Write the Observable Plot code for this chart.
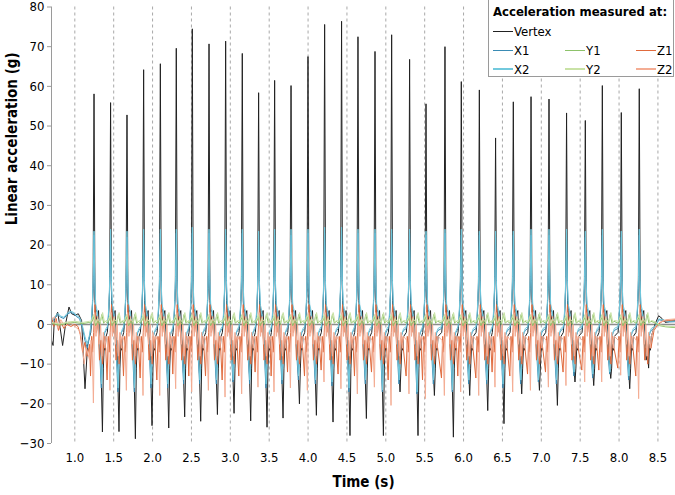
<!DOCTYPE html>
<html>
<head>
<meta charset="utf-8">
<script src="https://cdn.jsdelivr.net/npm/d3@7"></script>
<script src="https://cdn.jsdelivr.net/npm/@observablehq/plot@0.6"></script>
<style>
  html, body { margin: 0; padding: 0; background: #fff; }
  #wrap { position: relative; width: 675px; height: 495px; overflow: hidden; }
  #legend { position: absolute; left: 488px; top: -1px; width: 186px; height: 78px;
    border: 1px solid #9a9a9a; background: #fff; box-sizing: border-box;
    font-family: "DejaVu Sans Condensed", "DejaVu Sans", sans-serif; font-size: 13px; color: #000; }
  #legend .title { position: absolute; left: 4px; top: 4px; font-weight: bold; line-height: 15px; white-space: nowrap; }
  #legend .item { position: absolute; height: 16px; display: flex; align-items: center; white-space: nowrap; }
  #legend .sw { display: inline-block; width: 20px; height: 0; margin-right: 1px; }
</style>
</head>
<body>
<div id="wrap"></div>
<script>
// ---------------- data ----------------
const seriesNames = ["Vertex", "X1", "Y1", "Z1", "X2", "Y2", "Z2"];
const seriesColors = ["#222222", "#3a8bb4", "#8dc26a", "#e06a3c", "#72c9dd", "#c9e2a6", "#f4ad94"];
const drawOrder = ["Vertex", "X1", "X2", "Z1", "Z2", "Y1", "Y2"];

const xTicks = [1.0, 1.5, 2.0, 2.5, 3.0, 3.5, 4.0, 4.5, 5.0, 5.5, 6.0, 6.5, 7.0, 7.5, 8.0, 8.5];
const yTicks = [-30, -20, -10, 0, 10, 20, 30, 40, 50, 60, 70, 80];
const xDomain = [0.70, 8.726];
const yDomain = [-30, 80];

// time of each impact spike (s)
const spikeTimes = [1.247, 1.460, 1.671, 1.885, 2.100, 2.305, 2.511, 2.726, 2.940, 3.154, 3.364,
  3.570, 3.781, 3.999, 4.213, 4.431, 4.642, 4.861, 5.075, 5.306, 5.517, 5.761, 5.971, 6.203,
  6.412, 6.640, 6.868, 7.099, 7.325, 7.566, 7.785, 8.029, 8.260];

const vertexPeaks = [58.1, 55.9, 52.8, 64.2, 65.7, 69.6, 74.5, 70.7, 71.4, 68.3, 58.4, 61.5, 60.2,
  67.5, 75.6, 76.4, 72.5, 68.8, 73.0, 66.8, 55.6, 70.0, 61.2, 59.1, 47.0, 56.1, 57.4, 56.8,
  53.3, 51.4, 60.2, 53.4, 59.4];
const vertexTroughs = [-27.1, -27.0, -28.8, -25.5, -26.1, -23.3, -24.4, -22.7, -22.4, -24.3, -25.9,
  -23.6, -20.0, -22.9, -24.6, -28.0, -23.7, -28.0, -17.0, -28.0, -17.9, -28.4, -17.9, -21.7,
  -25.0, -17.5, -16.6, -20.4, -14.5, -15.4, -13.6, -16.2, -7.0];

const x1Peaks = [22.5, 22.5, 22, 22.5, 23, 23, 23, 23, 22.5, 23, 22.5, 22.5, 22.5, 23, 23, 23.5,
  23, 23, 23, 23, 22.5, 23, 22.5, 22.5, 22, 22.5, 22.5, 22.5, 22.5, 22, 22.5, 22, 22.5];
const x1Troughs = [-16, -17, -17, -16, -16, -15, -15, -15, -14.5, -15, -16, -15, -14, -15, -15.5,
  -17, -15, -17, -15, -17.5, -15, -17, -15, -15, -16, -15, -14.5, -15, -13, -13.5, -12.5, -14, -6];
const x2Peaks = [23.5, 24, 23.5, 24, 24, 24, 24.5, 24, 24, 24, 23.5, 24, 24, 24, 24.5, 24.5,
  24, 24, 24, 24, 23.5, 24, 24, 23.5, 23.5, 23.5, 24, 24, 24, 23.5, 24, 23.5, 24];
const x2Troughs = [-15, -16, -16, -15, -15, -14, -14, -14, -14, -14, -15, -14, -13, -14, -14.5,
  -16, -14, -16.5, -14, -17, -14, -16.5, -14, -14, -15, -14, -14, -14, -12, -12.5, -12, -13, -5];

const z1Troughs = [-13, -14, -13, -13.5, -14, -12.5, -13, -13, -14, -13, -12, -13, -12, -13, -11.5,
  -12.5, -13, -12, -14, -13, -14, -13.5, -13, -13.5, -12, -13, -12.5, -12, -12, -11.5, -11.5, -11, -13];
const z2Troughs = [-19.8, -16.6, -16.6, -17.9, -17.9, -16.2, -17.0, -16.6, -18.3, -17.5, -15.8,
  -17.0, -16.0, -16.6, -14.5, -16.2, -17.5, -15.8, -20.4, -17.5, -18.7, -17.9, -17.0, -17.9,
  -15.8, -17.0, -16.6, -15.8, -15.4, -14.5, -14.5, -12.8, -18.7];

// shape of one cycle around each spike: [seconds from spike, value]; "P" = peak, "T" = trough
const vertexCycle = [[-0.042, -2], [-0.026, 2], [-0.012, 9], [0, "P"], [0.012, 6], [0.026, 1],
  [0.045, 2.5], [0.058, 3.5], [0.07, -3], [0.088, -9], [0.108, "T"], [0.12, -11], [0.132, -5],
  [0.143, -6.5], [0.155, -3]];
const x1Cycle = [[-0.042, -1], [-0.03, 1.5], [-0.02, 5], [-0.01, 11], [0, "P"], [0.01, 10],
  [0.022, 4], [0.04, 3], [0.055, -1], [0.075, -8], [0.094, "T"], [0.11, -8], [0.125, -3],
  [0.14, -2], [0.155, -1.5]];
const x2Cycle = [[-0.042, -0.5], [-0.03, 2], [-0.02, 6], [-0.01, 12], [0, "P"], [0.01, 11],
  [0.022, 5], [0.04, 3.5], [0.055, 0], [0.075, -6], [0.097, "T"], [0.112, -7], [0.128, -2.5],
  [0.145, -1.5], [0.155, -1]];
const z1Cycle = [[-0.045, "T"], [-0.03, -3], [-0.018, -7], [-0.005, -2], [0.012, 5], [0.03, -2],
  [0.05, 1], [0.07, -9], [0.09, -4], [0.11, -10], [0.13, -3], [0.15, -6]];
const z2Cycle = [[-0.038, -4], [-0.022, -7], [-0.008, "T"], [0.008, 3], [0.025, -3], [0.045, 2],
  [0.065, -5], [0.085, 0], [0.1, -8], [0.12, -2], [0.14, -6], [0.155, -3]];
const y1Cycle = [[-0.04, 0.3], [-0.015, 1.2], [0, 2], [0.02, -0.3], [0.05, 0.8], [0.075, 0],
  [0.1, 2.5], [0.125, 0.3], [0.15, 0.8]];
const y2Cycle = [[-0.035, 0.8], [-0.005, 2.5], [0.02, 0.3], [0.045, 1.5], [0.08, 0.5],
  [0.11, 3], [0.135, 0.5], [0.155, 1]];

// quiet segments before the first and after the last spike: [t, value]
const vertexIntro = [[0.700, -4], [0.72, -5.3], [0.736, 1], [0.779, 3.1], [0.81, -0.7], [0.843, -5.3],
  [0.882, 0.2], [0.925, 4.4], [0.959, 2.7], [1.003, 2.3], [1.045, 2.7], [1.087, 1], [1.131, -16.2],
  [1.165, -4.9], [1.19, -3]];
const x1Intro = [[0.70, 0.5], [0.74, 1.5], [0.78, 2.5], [0.82, 1.8], [0.86, 1.5], [0.9, 2.5],
  [0.94, 3], [0.98, 2.8], [1.02, 2], [1.06, 1.5], [1.1, -1], [1.13, -4], [1.16, -6], [1.19, -3]];
const x2Intro = [[0.70, 0.8], [0.74, 1.8], [0.78, 2.8], [0.82, 2.1], [0.86, 1.8], [0.9, 2.8],
  [0.94, 3.3], [0.98, 3.1], [1.02, 2.3], [1.06, 1.8], [1.1, -0.5], [1.13, -3], [1.16, -5], [1.19, -2.5]];
const z1Intro = [[0.70, 2], [0.73, -0.5], [0.76, 1.5], [0.79, -1.5], [0.82, 0.5], [0.86, -1],
  [0.9, 0], [0.95, -0.5], [1.0, 0], [1.04, -0.5], [1.07, -2.5], [1.1, -7], [1.13, -4.5], [1.16, -8], [1.19, -5]];
const z2Intro = [[0.70, 1], [0.74, 2], [0.78, -1], [0.82, 1.2], [0.87, -0.5], [0.92, 0.5],
  [0.97, 0], [1.02, -0.8], [1.06, -1.5], [1.09, -4], [1.12, -10], [1.15, -6], [1.19, -9]];
const y1Intro = [[0.70, 0.3], [0.8, -0.2], [0.9, 0.3], [1.0, 0.5], [1.1, 0.2], [1.18, 0.5]];
const y2Intro = [[0.70, 0.5], [0.8, 0.1], [0.9, 0.6], [1.0, 0.8], [1.1, 0.5], [1.19, 0.8]];

const vertexOutro = [[8.466, 0.2], [8.509, 2.2], [8.553, 1.5], [8.595, 0.5], [8.66, 0.8], [8.726, 1.0]];
const x1Outro = [[8.47, -0.5], [8.51, 1.2], [8.56, 1.0], [8.62, 0.6], [8.726, 0.7]];
const x2Outro = [[8.47, -0.3], [8.51, 1.4], [8.56, 1.2], [8.62, 0.8], [8.726, 0.9]];
const z1Outro = [[8.45, -1.5], [8.5, 0], [8.56, 0.8], [8.64, 1.0], [8.726, 1.2]];
const z2Outro = [[8.45, -1], [8.52, 0.5], [8.6, 1.2], [8.726, 1.4]];
const y1Outro = [[8.45, 0.5], [8.52, -0.3], [8.6, -0.6], [8.726, -0.8]];
const y2Outro = [[8.45, 0.8], [8.52, -0.1], [8.6, -0.4], [8.726, -0.6]];

// ---------------- build table ----------------
function build(name, intro, cycle, peaks, troughs, outro) {
  const rows = intro.map(([t, v]) => ({series: name, t, v}));
  spikeTimes.forEach((ts, i) => {
    for (const [dt, v] of cycle) {
      const val = v === "P" ? peaks[i] : v === "T" ? troughs[i] : v;
      rows.push({series: name, t: ts + dt, v: val});
    }
  });
  for (const [t, v] of outro) rows.push({series: name, t, v});
  return rows;
}
const bySeries = {
  Vertex: build("Vertex", vertexIntro, vertexCycle, vertexPeaks, vertexTroughs, vertexOutro),
  X1: build("X1", x1Intro, x1Cycle, x1Peaks, x1Troughs, x1Outro),
  X2: build("X2", x2Intro, x2Cycle, x2Peaks, x2Troughs, x2Outro),
  Z1: build("Z1", z1Intro, z1Cycle, null, z1Troughs, z1Outro),
  Z2: build("Z2", z2Intro, z2Cycle, null, z2Troughs, z2Outro),
  Y1: build("Y1", y1Intro, y1Cycle, null, null, y1Outro),
  Y2: build("Y2", y2Intro, y2Cycle, null, null, y2Outro)
};
const data = drawOrder.flatMap(s => bySeries[s]);

const font = "'DejaVu Sans Condensed', 'DejaVu Sans', sans-serif";

const chart = Plot.plot({
  width: 675,
  height: 495,
  marginLeft: 51,
  marginRight: 0,
  marginTop: 6.5,
  marginBottom: 52,
  style: {fontFamily: font, fontSize: "13px", color: "#000", background: "#fff", overflow: "visible"},
  x: {domain: xDomain},
  y: {domain: yDomain},
  color: {domain: seriesNames, range: seriesColors},
  marks: [
    Plot.ruleX(xTicks, {stroke: "#a8a8a8", strokeDasharray: "3,3", strokeWidth: 1}),
    Plot.ruleY([0], {stroke: "#8c8c8c", strokeWidth: 1.5}),
    Plot.line(data, {x: "t", y: "v", z: "series", stroke: "series", strokeWidth: 1}),
    Plot.ruleX([xDomain[0]], {stroke: "#9a9a9a", strokeWidth: 1}),
    Plot.axisY({ticks: yTicks, tickSize: 4, tickPadding: 3, stroke: "#9a9a9a", label: null}),
    Plot.axisX({ticks: xTicks, tickSize: 0, tickPadding: 9, tickFormat: d3.format(".1f"), label: null}),
    Plot.text(["Linear acceleration (g)"], {frameAnchor: "left", dx: -39, rotate: -90,
      fontWeight: "bold", fontSize: 15, fill: "#000"}),
    Plot.text(["Time (s)"], {frameAnchor: "bottom", dy: 43, fontWeight: "bold", fontSize: 15, fill: "#000"})
  ]
});
const wrap = document.getElementById("wrap");
wrap.appendChild(chart);

// ---------------- legend ----------------
const legend = document.createElement("div");
legend.id = "legend";
const title = document.createElement("div");
title.className = "title";
title.textContent = "Acceleration measured at:";
legend.appendChild(title);
const legendLayout = {Vertex: [0, 0], X1: [0, 1], Y1: [1, 1], Z1: [2, 1], X2: [0, 2], Y2: [1, 2], Z2: [2, 2]};
const colLeft = [4, 76, 147];
const rowTop = [23, 42, 61];
seriesNames.forEach((s, i) => {
  const [c, r] = legendLayout[s];
  const item = document.createElement("div");
  item.className = "item";
  item.style.left = colLeft[c] + "px";
  item.style.top = rowTop[r] + "px";
  const sw = document.createElement("span");
  sw.className = "sw";
  sw.style.borderTop = (s.endsWith("2") ? 2 : 1.5) + "px solid " + seriesColors[i];
  item.appendChild(sw);
  const tx = document.createElement("span");
  tx.textContent = s;
  item.appendChild(tx);
  legend.appendChild(item);
});
wrap.appendChild(legend);
</script>
</body>
</html>
